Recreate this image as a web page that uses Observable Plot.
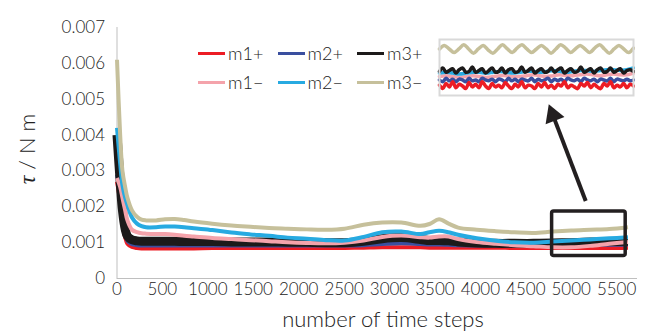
<!DOCTYPE html>
<html>
<head>
<meta charset="utf-8">
<script src="https://cdn.jsdelivr.net/npm/d3@7"></script>
<script src="https://cdn.jsdelivr.net/npm/@observablehq/plot@0.6"></script>
<style>
  body { margin: 0; background: #fff; }
  #chart { position: relative; width: 661px; height: 331px; font-family: Lato, "Open Sans", sans-serif; font-weight: 300; color: #222; overflow: hidden; }
  #chart svg { display: block; }
  #main { position: absolute; left: 0; top: 0; }
  #inset { position: absolute; left: 437px; top: 37px; }
  .ytitle { position: absolute; left: 27px; top: 149px; transform: translate(-50%, -50%) rotate(-90deg); font-size: 22px; white-space: nowrap; }
  .ytitle i { font-family: "Liberation Serif", serif; font-size: 24px; font-weight: normal; }
  .xtitle { position: absolute; left: 383px; top: 318px; transform: translate(-50%, -50%); font-size: 22px; white-space: nowrap; }
  .legend { position: absolute; left: 198px; top: 39px; font-size: 18px; line-height: 29px; }
  .legend .row { display: flex; }
  .legend .item { display: flex; align-items: center; width: 79.5px; }
  .legend .sw { display: inline-block; width: 27px; height: 3px; margin-right: 3px; }
</style>
</head>
<body>
<div id="chart">
  <div id="main"></div>
  <div id="inset"></div>
  <div class="ytitle"><i>τ</i> / N m</div>
  <div class="xtitle">number of time steps</div>
  <div class="legend" id="legend"></div>
</div>
<script>
// Time steps at which the torque of each run is sampled
const steps = [0, 35, 60, 90, 115, 165, 220, 270, 320, 430, 530, 635, 740, 845, 1050, 1260, 1470, 1675, 1880, 2090,
  2300, 2505, 2715, 2920, 3130, 3340, 3440, 3545, 3650, 3755, 3960, 4170, 4375, 4585, 4795, 5000, 5210, 5420, 5625];

// Torque τ in N m for each run
const m1Plus = [0.00270, 0.00215, 0.00155, 0.00115, 0.00097, 0.00088, 0.00085, 0.00084, 0.00084, 0.00084, 0.00084, 0.00084, 0.00084, 0.00084, 0.00085, 0.00085, 0.00085, 0.00085, 0.00085, 0.00085,
  0.00085, 0.00085, 0.00086, 0.00087, 0.00087, 0.00087, 0.00086, 0.00086, 0.00086, 0.00086, 0.00086, 0.00086, 0.00085, 0.00085, 0.00085, 0.00085, 0.00085, 0.00085, 0.00086];
const m2Plus = [0.00290, 0.00235, 0.00175, 0.00130, 0.00105, 0.00096, 0.00093, 0.00092, 0.00092, 0.00092, 0.00092, 0.00092, 0.00092, 0.00092, 0.00092, 0.00092, 0.00092, 0.00092, 0.00092, 0.00092,
  0.00092, 0.00092, 0.00093, 0.00096, 0.00098, 0.00096, 0.00095, 0.00095, 0.00094, 0.00093, 0.00092, 0.00092, 0.00092, 0.00092, 0.00092, 0.00093, 0.00094, 0.00094, 0.00095];
const m3Plus = [0.00400, 0.00270, 0.00190, 0.00138, 0.00118, 0.00108, 0.00105, 0.00104, 0.00104, 0.00104, 0.00104, 0.00104, 0.00103, 0.00103, 0.00103, 0.00102, 0.00102, 0.00102, 0.00101, 0.00101,
  0.00100, 0.00100, 0.00104, 0.00111, 0.00114, 0.00109, 0.00106, 0.00106, 0.00105, 0.00102, 0.00099, 0.00098, 0.00098, 0.00098, 0.00099, 0.00100, 0.00102, 0.00103, 0.00104];
const m1Minus = [0.00280, 0.00255, 0.00225, 0.00190, 0.00162, 0.00136, 0.00129, 0.00126, 0.00125, 0.00124, 0.00124, 0.00122, 0.00119, 0.00117, 0.00113, 0.00110, 0.00107, 0.00104, 0.00101, 0.00099,
  0.00098, 0.00100, 0.00106, 0.00116, 0.00120, 0.00115, 0.00114, 0.00117, 0.00117, 0.00110, 0.00102, 0.00097, 0.00093, 0.00090, 0.00087, 0.00087, 0.00091, 0.00097, 0.00102];
const m2Minus = [0.00420, 0.00320, 0.00260, 0.00225, 0.00205, 0.00170, 0.00153, 0.00146, 0.00143, 0.00143, 0.00145, 0.00145, 0.00143, 0.00140, 0.00135, 0.00128, 0.00123, 0.00119, 0.00114, 0.00111,
  0.00107, 0.00106, 0.00116, 0.00129, 0.00131, 0.00124, 0.00129, 0.00133, 0.00129, 0.00122, 0.00112, 0.00105, 0.00101, 0.00100, 0.00103, 0.00106, 0.00109, 0.00112, 0.00115];
const m3Minus = [0.00610, 0.00400, 0.00300, 0.00255, 0.00225, 0.00190, 0.00172, 0.00164, 0.00162, 0.00162, 0.00165, 0.00166, 0.00163, 0.00159, 0.00153, 0.00148, 0.00144, 0.00141, 0.00139, 0.00137,
  0.00136, 0.00139, 0.00150, 0.00156, 0.00156, 0.00147, 0.00152, 0.00165, 0.00153, 0.00142, 0.00136, 0.00132, 0.00129, 0.00127, 0.00131, 0.00134, 0.00136, 0.00138, 0.00143];

// Close-up of the last part of the runs, in 10⁻³ N m, sampled evenly along the window
const m1PlusZoom = [0.95, 0.91, 0.97, 0.93, 0.99, 0.92, 0.96, 0.94, 0.91, 0.98, 0.93, 0.96, 0.92, 0.99, 0.94, 0.91, 0.97, 0.93, 0.95, 0.92,
  0.98, 0.94, 0.91, 0.96, 0.93, 0.99, 0.92, 0.95, 0.94, 0.91, 0.97, 0.93, 0.98, 0.92, 0.95, 0.91, 0.96, 0.94, 0.99, 0.92,
  0.95, 0.93, 0.91, 0.97, 0.94, 0.98, 0.92, 0.96, 0.93, 0.91, 0.97, 0.94, 0.99, 0.92, 0.95, 0.93, 0.97, 0.92, 0.96, 0.94];
const m2PlusZoom = [1.01, 0.99, 1.03, 1.00, 1.02, 0.99, 1.02, 1.01, 0.99, 1.03, 1.00, 1.01, 0.99, 1.03, 1.01, 1.00, 1.02, 0.99, 1.02, 1.01,
  0.99, 1.03, 1.00, 1.02, 0.99, 1.02, 1.01, 1.00, 1.03, 0.99, 1.02, 1.00, 1.01, 1.03, 0.99, 1.02, 1.00, 1.02, 0.99, 1.03,
  1.01, 1.00, 1.02, 0.99, 1.03, 1.01, 1.00, 1.02, 0.99, 1.02, 1.01, 1.00, 1.03, 0.99, 1.02, 1.01, 1.00, 1.02, 1.00, 1.01];
const m3PlusZoom = [1.11, 1.15, 1.10, 1.12, 1.14, 1.09, 1.13, 1.15, 1.10, 1.11, 1.16, 1.10, 1.12, 1.14, 1.09, 1.12, 1.15, 1.10, 1.11, 1.15,
  1.09, 1.13, 1.14, 1.10, 1.11, 1.16, 1.10, 1.12, 1.15, 1.09, 1.12, 1.14, 1.10, 1.11, 1.15, 1.10, 1.13, 1.15, 1.09, 1.12,
  1.14, 1.10, 1.11, 1.16, 1.10, 1.12, 1.14, 1.09, 1.13, 1.15, 1.10, 1.11, 1.15, 1.10, 1.12, 1.14, 1.09, 1.12, 1.13, 1.11];
const m1MinusZoom = [1.05, 1.06, 1.05, 1.04, 1.05, 1.06, 1.05, 1.04, 1.05, 1.06, 1.06, 1.05, 1.05, 1.06, 1.07, 1.06, 1.05, 1.06, 1.07, 1.06,
  1.06, 1.07, 1.08, 1.07, 1.06, 1.07, 1.08, 1.07, 1.07, 1.09];
const m2MinusZoom = [1.09, 1.10, 1.09, 1.08, 1.09, 1.10, 1.10, 1.09, 1.10, 1.11, 1.10, 1.09, 1.10, 1.11, 1.11, 1.10, 1.11, 1.12, 1.11, 1.10,
  1.11, 1.12, 1.12, 1.11, 1.12, 1.13, 1.13, 1.12, 1.13, 1.15];
const m3MinusZoom = [1.37, 1.41, 1.37, 1.33, 1.37, 1.42, 1.37, 1.32, 1.37, 1.41, 1.36, 1.32, 1.37, 1.42, 1.37, 1.33, 1.38, 1.42, 1.37, 1.33,
  1.37, 1.41, 1.37, 1.32, 1.37, 1.42, 1.38, 1.33, 1.37, 1.41, 1.37, 1.33, 1.38, 1.42, 1.37, 1.32, 1.37, 1.41, 1.37, 1.33, 1.38];

// Series names and colours
const names = ["m1+", "m2+", "m3+", "m1−", "m2−", "m3−"];
const colors = ["#ec1c24", "#3a4f9f", "#1c1a1a", "#f4a3ab", "#27aae1", "#c6c09b"];
const widths = [4, 4, 9, 4, 4, 4];
const mainValues = [m1Plus, m2Plus, m3Plus, m1Minus, m2Minus, m3Minus];
const zoomValues = [m1PlusZoom, m2PlusZoom, m3PlusZoom, m1MinusZoom, m2MinusZoom, m3MinusZoom];

// Axis ticks
const xTicks = [0, 500, 1000, 1500, 2000, 2500, 3000, 3500, 4000, 4500, 5000, 5500];
const yTicks = [0, 0.001, 0.002, 0.003, 0.004, 0.005, 0.006, 0.007];

// Window that the close-up shows, and the pointer from it to the close-up
const zoomWindow = [{x1: 4790, x2: 5600, y1: 0.00063, y2: 0.00187}];
const pointer = [{x1: 5160, y1: 0.00216, x2: 4750, y2: 0.00488}];

const fontFamily = 'Lato, "Open Sans", sans-serif';
const ink = "#231f20";

const mainLines = mainValues.map((vals, k) =>
  Plot.line(steps.map((t, i) => ({t, v: vals[i]})), {
    x: "t", y: "v", stroke: colors[k], strokeWidth: widths[k], curve: "catmull-rom",
    strokeLinejoin: "round", strokeLinecap: "butt"
  })
);

// Pointer shaft stops short of the tip; a filled triangle forms the head
const headFrac = 0.12;
const shaft = pointer.map(p => ({x1: p.x1, y1: p.y1, x2: p.x2 + (p.x1 - p.x2) * 0.16, y2: p.y2 + (p.y1 - p.y2) * 0.16}));
const head = pointer.map(p => ({x: p.x2 + (p.x1 - p.x2) * headFrac, y: p.y2 + (p.y1 - p.y2) * headFrac}));

const main = Plot.plot({
  width: 661,
  height: 331,
  marginLeft: 116.5,
  marginRight: 24,
  marginTop: 27,
  marginBottom: 53,
  style: {fontFamily, fontSize: "17px", fontWeight: 300, color: "#222", background: "transparent", overflow: "visible"},
  x: {domain: [0, 5730]},
  y: {domain: [0, 0.007]},
  marks: [
    Plot.axisY({ticks: yTicks, tickSize: 0, tickPadding: 12, label: null, tickFormat: d => d === 0 ? "0" : d.toFixed(3), fontSize: 17}),
    Plot.axisX({ticks: xTicks, tickSize: 0, tickPadding: 4, label: null, tickFormat: d => String(d), fontSize: 17}),
    Plot.ruleX([0], {stroke: "#bfbfbf", strokeWidth: 1}),
    Plot.ruleY([0], {stroke: "#bfbfbf", strokeWidth: 1}),
    ...mainLines,
    Plot.rect(zoomWindow, {x1: "x1", x2: "x2", y1: "y1", y2: "y2", fill: "none", stroke: ink, strokeWidth: 3.5, rx: 2}),
    Plot.link(shaft, {x1: "x1", y1: "y1", x2: "x2", y2: "y2", stroke: ink, strokeWidth: 4}),
    Plot.dot(head, {x: "x", y: "y", symbol: "triangle", r: 7.5, fill: ink, stroke: "none", rotate: -21})
  ]
});
document.getElementById("main").appendChild(main);

// Close-up: each series spread over the full width of the panel
const zoomLines = zoomValues.map((vals, k) =>
  Plot.line(vals.map((v, i) => ({p: i / (vals.length - 1), v})), {
    x: "p", y: "v", stroke: colors[k], strokeWidth: 3.5, curve: "catmull-rom"
  })
);
const inset = Plot.plot({
  width: 198,
  height: 60,
  margin: 2,
  style: {background: "white"},
  x: {domain: [0, 1], axis: null},
  y: {domain: [0.83, 1.48], axis: null},
  marks: [
    ...[zoomLines[3], zoomLines[4], zoomLines[2], zoomLines[1], zoomLines[0], zoomLines[5]],
    Plot.frame({stroke: "#d9d9d9", strokeWidth: 2})
  ]
});
document.getElementById("inset").appendChild(inset);

// Legend in two rows of three
const legend = document.getElementById("legend");
for (let r = 0; r < 2; r++) {
  const row = document.createElement("div");
  row.className = "row";
  for (let c = 0; c < 3; c++) {
    const k = r * 3 + c;
    const item = document.createElement("div");
    item.className = "item";
    const sw = document.createElement("span");
    sw.className = "sw";
    sw.style.background = colors[k];
    const label = document.createElement("span");
    label.textContent = names[k];
    item.append(sw, label);
    row.appendChild(item);
  }
  legend.appendChild(row);
}
</script>
</body>
</html>
